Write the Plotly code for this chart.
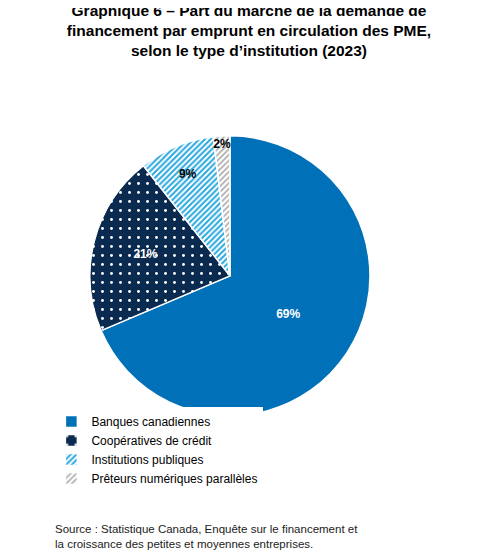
import plotly.graph_objects as go

labels = ["Banques canadiennes", "Coopératives de crédit", "Institutions publiques", "Prêteurs numériques parallèles"]
values = [68.6, 20.8, 8.7, 1.9]
colors = ["#0070B8", "#0B2A4F", "#29A8E0", "#B5B5B5"]
shapes = ["", ".", "/", "/"]
text_colors = ["white", "white", "black", "black"]

fig = go.Figure(go.Pie(
    labels=labels, values=values, sort=False, direction="clockwise", rotation=0,
    marker=dict(colors=colors, line=dict(color="white", width=1.5),
                pattern=dict(shape=shapes, fgcolor=["#0070B8", "white", "#29A8E0", "#AAAAAA"],
                             bgcolor=["#0070B8", "#0B2A4F", "white", "white"],
                             size=[6, 9, 4, 4], solidity=[0.5, 0.08, 0.5, 0.4])),
    texttemplate="<b>%{percent:.0%}</b>", textposition="inside", insidetextorientation="horizontal",
    textfont=dict(family="Arial, Liberation Sans", size=12, color=text_colors),
    domain=dict(x=[0.170, 0.751], y=[0.26, 0.78]),
    showlegend=True,
))

fig.update_layout(
    width=482, height=558, margin=dict(l=0, r=0, t=0, b=0),
    paper_bgcolor="white", plot_bgcolor="white",
    font=dict(family="Arial, Liberation Sans", color="black"),
    uniformtext=dict(minsize=12, mode="show"),
    title=dict(text="<b>Graphique 6 – Part du marché de la demande de<br>financement par emprunt en circulation des PME,<br>selon le type d’institution (2023)</b>",
               x=0.5, xanchor="center", yref="container", y=1 - 8/558, yanchor="top", font=dict(size=15.5)),
    legend=dict(x=0.09, y=0.285, xanchor="left", yanchor="top", font=dict(size=12),
                itemwidth=30, tracegroupgap=6),
    annotations=[dict(text="Source : Statistique Canada, Enquête sur le financement et<br>la croissance des petites et moyennes entreprises.",
                      x=45/482, y=1-513/558, xref="paper", yref="paper", xanchor="left", yanchor="top",
                      align="left", showarrow=False, font=dict(size=11.5, color="#222"))],
)
fig.write_html("out.html")
